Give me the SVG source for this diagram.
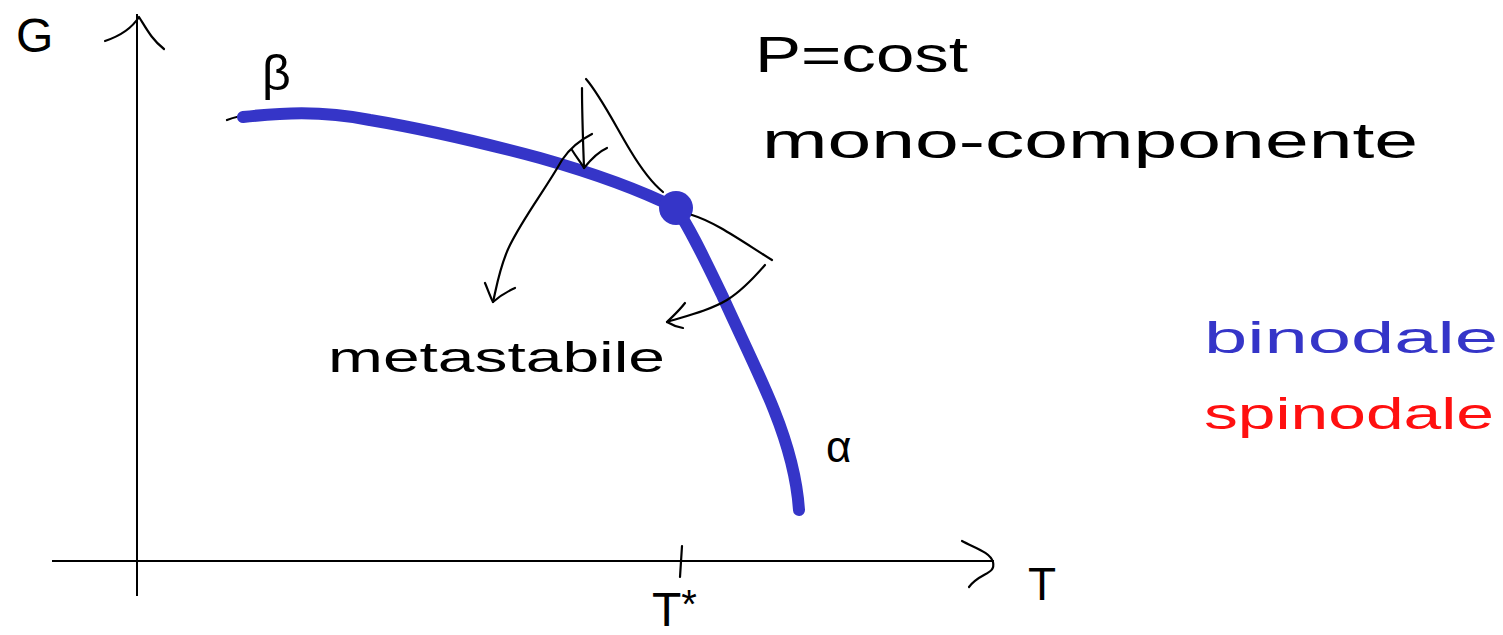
<svg xmlns="http://www.w3.org/2000/svg" width="1503" height="635" viewBox="0 0 1503 635">
<style>
.ink{fill:none;stroke:#000;stroke-width:2.2;stroke-linecap:round;stroke-linejoin:round}
.ax{fill:none;stroke:#000;stroke-width:2}
.t{font-family:"Liberation Sans","DejaVu Sans",sans-serif;fill:#000}
.blue{fill:#3535c8}
.red{fill:#ff1010}
</style>
<rect width="1503" height="635" fill="#fff"/>
<g id="axes">
<line class="ax" x1="137" y1="14" x2="137" y2="596"/>
<path class="ink" d="M105,41 C120,36 132,28 139,17 C146,28 152,40 164,49"/>
<line class="ax" x1="52" y1="561" x2="994" y2="561"/>
<path class="ink" d="M962,541 C975,548 990,552 993,562 C996,575 980,572 969,587"/>
<line class="ink" x1="682" y1="546" x2="680" y2="577"/>
</g>
<g id="curves">
<path class="ink" d="M227,120 C240,115 250,115 258,117"/>
<path d="M243,117 C280,113 320,110 370,120 C430,130 480,142 540,158 C600,175 640,190 676,208 C690,228 705,260 722,295 C740,335 760,375 774,410 C790,450 797,480 799,510" fill="none" stroke="#3535c8" stroke-width="12" stroke-linecap="round" stroke-linejoin="round"/>
<circle cx="676" cy="208" r="17" fill="#3535c8"/>
<path class="ink" d="M586,79 C600,95 615,125 630,150 C642,170 652,183 663,192"/>
<path class="ink" d="M692,215 C715,222 740,240 772,260"/>
</g>
<g id="connectors">
<path class="ink" d="M582,88 C582,115 583,140 584,168"/>
<path class="ink" d="M572,150 C577,158 581,163 584,168 C592,158 598,152 607,148"/>
<path class="ink" d="M592,134 C580,140 570,148 562,160 C545,190 525,215 510,245 C500,265 497,285 493,302"/>
<path class="ink" d="M485,283 C488,290 490,296 493,302 C500,296 508,291 515,288"/>
<path class="ink" d="M765,265 C752,280 740,292 727,300 C710,310 690,315 667,322"/>
<path class="ink" d="M685,303 C678,312 672,317 667,322 C672,325 677,327 683,328"/>
</g>
<g id="labels">
<text class="t" x="16" y="52" font-size="48">G</text>
<text class="t" x="262" y="90" font-size="50">β</text>
<text class="t" x="826" y="462" font-size="44">α</text>
<text class="t" x="755" y="72" font-size="50" textLength="213" lengthAdjust="spacingAndGlyphs">P=cost</text>
<text class="t" x="762" y="158" font-size="50" textLength="656" lengthAdjust="spacingAndGlyphs">mono-componente</text>
<text class="t" x="328" y="372" font-size="42" textLength="337" lengthAdjust="spacingAndGlyphs">metastabile</text>
<text class="t blue" x="1204" y="353" font-size="44" textLength="294" lengthAdjust="spacingAndGlyphs">binodale</text>
<text class="t red" x="1204" y="429" font-size="44" textLength="290" lengthAdjust="spacingAndGlyphs">spinodale</text>
<text class="t" x="652" y="626" font-size="48">T<tspan font-size="40" dy="-8">*</tspan></text>
<text class="t" x="1028" y="600" font-size="46">T</text>
</g>
</svg>
